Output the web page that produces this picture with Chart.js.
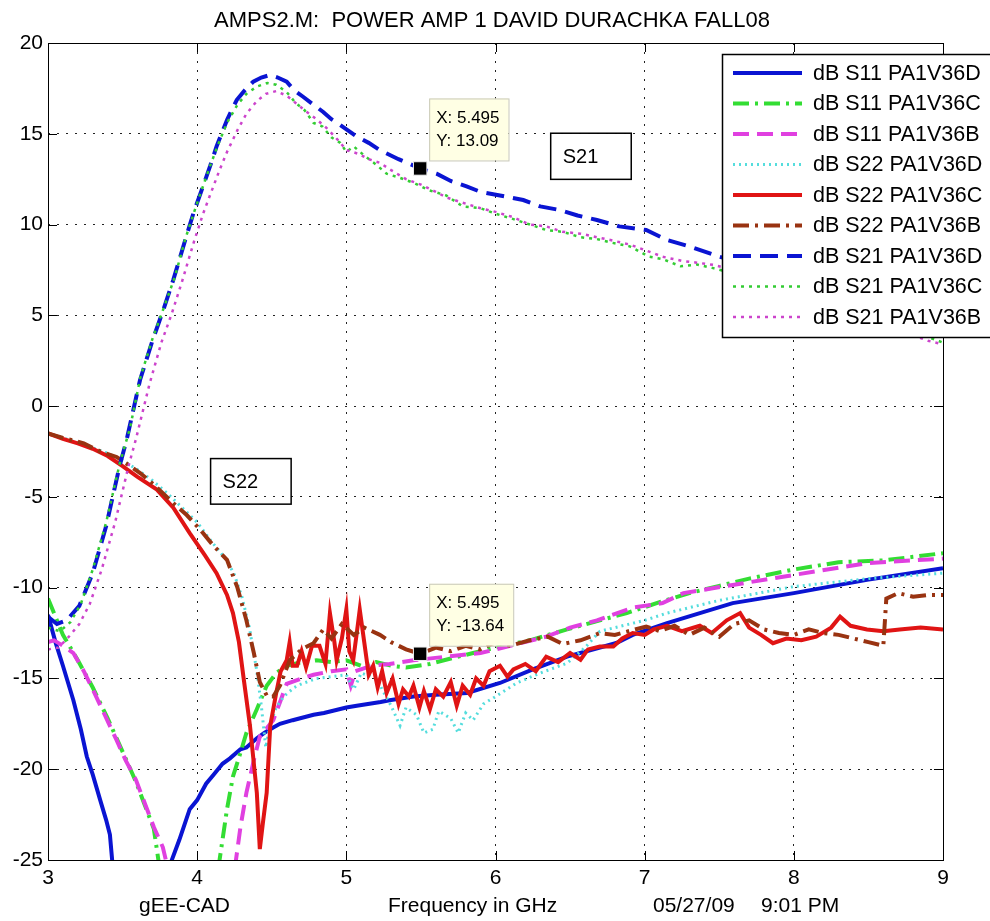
<!DOCTYPE html>
<html>
<head>
<meta charset="utf-8">
<script src="https://cdn.jsdelivr.net/npm/chart.js@4.4.0/dist/chart.umd.min.js"></script>
<style>
  html, body { margin: 0; padding: 0; background: #fff; }
</style>
</head>
<body>
<canvas id="myChart" width="990" height="921"></canvas>
<script>
// [GHz, dB] pairs
const s11D = [[3.0,-11.5],[3.05,-13.0],[3.1,-14.3],[3.17,-16.2],[3.22,-17.8],[3.26,-19.3],[3.3,-20.3],[3.35,-21.7],[3.39,-22.8],[3.415,-23.6],[3.43,-25],[3.45,-27],
  [3.78,-27],[3.83,-25],[3.88,-23.9],[3.95,-22.2],[4.0,-21.7],[4.06,-20.8],[4.11,-20.3],[4.17,-19.7],[4.22,-19.4],[4.29,-18.9],[4.33,-18.8],[4.4,-18.3],[4.45,-18.0],
  [4.51,-17.7],[4.555,-17.5],[4.64,-17.3],[4.78,-17.0],[4.85,-16.9],[5.0,-16.6],[5.07,-16.5],[5.23,-16.3],[5.29,-16.2],[5.45,-16.0],[5.6,-15.9],[5.81,-15.8],
  [6.03,-15.25],[6.25,-14.5],[6.48,-13.8],[6.81,-13.05],[6.92,-12.6],[7.15,-11.95],[7.59,-10.85],[8.0,-10.3],[8.49,-9.57],[9.0,-8.93]];

const s11C = [[3.0,-10.6],[3.05,-11.6],[3.1,-12.6],[3.15,-13.3],[3.2,-14.0],[3.3,-15.5],[3.4,-17.2],[3.46,-18.3],[3.52,-19.4],[3.59,-20.7],[3.65,-22.0],[3.71,-23.3],[3.74,-25],[3.76,-27],
  [4.12,-27],[4.15,-25],[4.2,-22.2],[4.24,-20.4],[4.29,-19.1],[4.33,-18.0],[4.4,-16.7],[4.466,-15.4],[4.53,-14.7],[4.6,-14.3],[4.7,-14.1],[4.8,-14.0],[4.9,-14.1],
  [5.0,-14.0],[5.1,-14.3],[5.2,-14.1],[5.3,-14.3],[5.4,-14.4],[5.56,-14.2],[5.7,-13.9],[5.85,-13.6],[6.0,-13.3],[6.23,-12.9],[6.48,-12.3],[6.7,-11.8],[6.88,-11.4],
  [7.1,-10.8],[7.3,-10.3],[7.5,-9.9],[7.7,-9.5],[8.0,-9.0],[8.3,-8.6],[8.6,-8.5],[8.8,-8.3],[9.0,-8.1]];

const s11B = [[3.0,-13.0],[3.04,-12.9],[3.1,-13.2],[3.17,-13.6],[3.24,-14.6],[3.3,-15.6],[3.38,-17.0],[3.46,-18.4],[3.52,-19.5],[3.59,-20.6],[3.65,-21.9],[3.71,-23.2],[3.77,-24.3],[3.79,-25],[3.81,-27],
  [4.23,-27],[4.26,-25],[4.29,-23.2],[4.33,-21.3],[4.38,-19.5],[4.42,-18.2],[4.51,-17.3],[4.56,-16.2],[4.6,-15.3],[4.7,-15.0],[4.78,-14.8],[4.9,-14.6],[5.0,-14.5],
  [5.03,-15.4],[5.06,-14.6],[5.17,-14.3],[5.29,-14.2],[5.45,-14.0],[5.67,-13.8],[5.9,-13.6],[6.1,-13.2],[6.34,-12.7],[6.5,-12.2],[6.68,-11.8],[6.92,-11.1],[7.12,-10.85],
  [7.26,-10.3],[7.59,-9.85],[8.0,-9.3],[8.49,-8.65],[9.0,-8.4]];

const s22D = [[3.0,-1.5],[3.1,-1.75],[3.2,-2.0],[3.3,-2.3],[3.4,-2.6],[3.5,-3.0],[3.6,-3.5],[3.7,-4.1],[3.8,-4.8],[3.9,-5.6],[4.0,-6.4],[4.1,-7.5],[4.2,-8.5],[4.25,-9.3],
  [4.3,-10.5],[4.35,-12.2],[4.4,-14.6],[4.43,-16.5],[4.46,-18.8],[4.49,-17.5],[4.53,-16.6],[4.58,-16.0],[4.65,-15.5],[4.7,-15.3],[4.8,-15.0],[4.9,-14.9],[5.0,-14.8],
  [5.05,-15.6],[5.1,-14.7],[5.2,-15.0],[5.3,-16.5],[5.36,-17.6],[5.4,-16.6],[5.47,-17.0],[5.52,-18.0],[5.58,-17.8],[5.62,-16.8],[5.7,-17.2],[5.75,-18.0],[5.8,-16.9],
  [5.85,-17.3],[5.92,-16.4],[6.0,-16.0],[6.14,-15.26],[6.3,-14.7],[6.48,-14.16],[6.6,-13.3],[6.7,-12.4],[7.0,-11.8],[7.15,-11.4],[7.5,-10.7],[8.0,-9.94],[8.5,-9.5],[9.0,-9.2]];

const s22C = [[3.0,-1.5],[3.1,-1.8],[3.2,-2.05],[3.3,-2.35],[3.4,-2.75],[3.5,-3.3],[3.6,-3.9],[3.73,-4.6],[3.84,-5.6],[3.95,-7.0],[4.05,-8.2],[4.13,-9.2],[4.2,-10.4],[4.24,-11.4],
  [4.28,-13.0],[4.31,-14.9],[4.354,-17.6],[4.4,-21.3],[4.42,-24.4],[4.44,-23.0],[4.466,-21.3],[4.49,-17.6],[4.53,-15.8],[4.56,-14.6],[4.6,-14.0],[4.62,-13.0],[4.64,-14.3],
  [4.67,-14.3],[4.7,-13.5],[4.73,-14.4],[4.77,-13.2],[4.82,-13.2],[4.86,-14.2],[4.89,-11.4],[4.92,-13.0],[4.935,-14.0],[4.97,-12.8],[5.0,-11.2],[5.02,-13.5],[5.046,-14.0],
  [5.07,-12.5],[5.09,-11.2],[5.12,-13.0],[5.15,-14.8],[5.18,-14.3],[5.21,-15.5],[5.24,-14.6],[5.27,-15.8],[5.31,-15.0],[5.35,-16.4],[5.38,-15.6],[5.42,-16.0],[5.45,-15.4],
  [5.49,-16.6],[5.52,-15.7],[5.56,-16.7],[5.6,-15.6],[5.65,-16.0],[5.7,-15.2],[5.74,-16.5],[5.78,-15.4],[5.83,-15.9],[5.87,-15.0],[5.92,-15.4],[5.96,-14.6],[6.03,-14.3],
  [6.08,-14.9],[6.12,-14.5],[6.2,-14.2],[6.27,-14.6],[6.34,-13.8],[6.42,-14.1],[6.5,-13.6],[6.57,-13.97],[6.62,-13.4],[6.7,-13.24],[6.79,-13.24],[6.85,-12.8],[6.92,-12.5],
  [7.0,-12.6],[7.06,-12.3],[7.15,-12.1],[7.25,-12.4],[7.37,-12.1],[7.45,-12.5],[7.55,-11.8],[7.64,-11.4],[7.7,-12.2],[7.78,-12.6],[7.86,-13.06],[7.95,-12.8],[8.05,-12.9],
  [8.15,-12.7],[8.25,-12.2],[8.31,-11.6],[8.38,-12.1],[8.49,-12.3],[8.6,-12.4],[8.71,-12.3],[8.85,-12.2],[9.0,-12.3]];

const s22B = [[3.0,-1.5],[3.1,-1.75],[3.24,-2.05],[3.35,-2.5],[3.46,-2.8],[3.55,-3.3],[3.62,-3.7],[3.72,-4.4],[3.84,-5.35],[3.93,-6.0],[4.02,-6.8],[4.1,-7.6],[4.2,-8.47],
  [4.27,-10.0],[4.33,-11.8],[4.38,-13.6],[4.42,-15.2],[4.47,-16.0],[4.51,-16.0],[4.555,-15.4],[4.62,-14.0],[4.7,-13.4],[4.78,-13.06],[4.845,-12.3],[4.9,-12.8],[4.97,-12.0],
  [5.05,-12.6],[5.12,-12.2],[5.225,-12.6],[5.3,-13.0],[5.4,-13.4],[5.495,-13.64],[5.6,-13.3],[5.7,-13.5],[5.8,-13.2],[5.895,-13.4],[6.0,-13.0],[6.1,-13.2],[6.23,-12.9],
  [6.35,-12.7],[6.45,-13.1],[6.57,-12.9],[6.7,-12.5],[6.8,-12.6],[7.01,-12.14],[7.1,-12.4],[7.2,-12.1],[7.3,-12.6],[7.4,-12.2],[7.5,-12.7],[7.6,-12.0],[7.7,-11.8],
  [7.8,-12.3],[7.9,-12.5],[8.0,-12.6],[8.1,-12.3],[8.2,-12.5],[8.3,-12.6],[8.4,-12.8],[8.5,-13.0],[8.6,-13.2],[8.62,-10.6],[8.7,-10.3],[8.8,-10.5],[8.9,-10.4],[9.0,-10.4]];

const s21D = [[3.0,-11.6],[3.06,-12.0],[3.125,-11.8],[3.21,-11.0],[3.3,-9.2],[3.39,-6.6],[3.48,-3.3],[3.527,-1.86],[3.617,1.44],[3.7,3.6],[3.773,5.3],[3.84,6.95],
  [3.92,9.15],[3.974,10.6],[4.03,11.9],[4.086,13.2],[4.13,14.3],[4.2,15.76],[4.265,16.86],[4.32,17.4],[4.376,17.87],[4.43,18.1],[4.488,18.24],[4.54,18.1],[4.6,17.87],
  [4.65,17.4],[4.71,17.04],[4.78,16.6],[4.845,16.2],[4.9,15.8],[4.957,15.5],[5.07,14.84],[5.15,14.5],[5.225,14.1],[5.35,13.6],[5.495,13.09],[5.605,12.8],[5.7,12.4],
  [5.806,12.1],[5.9,11.8],[6.03,11.6],[6.186,11.35],[6.3,11.0],[6.43,10.8],[6.55,10.5],[6.68,10.25],[6.83,9.9],[7.01,9.7],[7.15,9.15],[7.3,8.8],[7.5,8.23],[7.7,7.8],
  [8.0,7.3],[8.3,6.6],[8.6,5.6],[8.8,4.6],[9.0,3.9]];

const s21C = [[3.0,-12.2],[3.08,-12.4],[3.15,-11.9],[3.22,-10.9],[3.3,-9.0],[3.39,-6.4],[3.48,-3.2],[3.55,-1.2],[3.62,1.6],[3.7,3.7],[3.78,5.5],[3.85,7.1],[3.92,9.2],
  [3.98,10.7],[4.03,11.9],[4.09,13.3],[4.14,14.4],[4.2,15.6],[4.27,16.6],[4.33,17.2],[4.4,17.6],[4.47,17.8],[4.53,17.7],[4.6,17.3],[4.66,16.7],[4.72,16.3],[4.78,15.6],
  [4.84,15.4],[4.9,14.8],[4.96,14.5],[5.0,14.0],[5.05,14.3],[5.12,13.8],[5.2,13.3],[5.27,12.8],[5.35,12.6],[5.45,12.3],[5.55,11.9],[5.67,11.6],[5.78,11.0],[5.9,10.9],
  [6.0,10.6],[6.12,10.3],[6.23,10.0],[6.34,9.7],[6.45,9.6],[6.57,9.3],[6.68,9.2],[6.78,9.0],[6.9,8.8],[7.03,8.23],[7.12,8.1],[7.24,7.7],[7.35,7.8],[7.46,7.6],
  [7.6,7.3],[7.8,7.0],[8.0,6.6],[8.3,6.0],[8.6,5.0],[8.8,4.1],[9.0,3.5]];

const s21B = [[3.0,-13.4],[3.07,-13.3],[3.14,-12.7],[3.21,-12.0],[3.28,-10.9],[3.36,-9.0],[3.45,-6.4],[3.54,-3.3],[3.59,-1.8],[3.68,1.2],[3.76,3.5],[3.83,5.1],
  [3.9,6.9],[3.98,9.1],[4.04,10.6],[4.09,11.7],[4.15,13.0],[4.2,14.0],[4.27,15.2],[4.33,16.1],[4.4,16.8],[4.46,17.2],[4.53,17.35],[4.6,17.1],[4.66,16.7],[4.72,16.3],
  [4.8,15.8],[4.87,15.3],[4.95,14.6],[5.0,14.1],[5.08,13.9],[5.15,13.6],[5.225,13.4],[5.3,13.0],[5.4,12.5],[5.5,12.2],[5.6,11.8],[5.67,11.5],[5.78,11.2],[5.9,10.9],
  [6.0,10.7],[6.12,10.4],[6.23,10.0],[6.34,9.9],[6.45,9.6],[6.57,9.5],[6.68,9.3],[6.77,9.15],[6.9,8.9],[7.0,8.6],[7.12,8.23],[7.25,8.0],[7.35,7.9],[7.46,7.78],
  [7.6,7.5],[7.8,7.1],[8.0,6.7],[8.3,6.0],[8.6,4.9],[8.8,3.9],[8.9,3.6],[9.0,3.4]];

const seriesNames = ['dB S11 PA1V36D','dB S11 PA1V36C','dB S11 PA1V36B','dB S22 PA1V36D','dB S22 PA1V36C','dB S22 PA1V36B','dB S21 PA1V36D','dB S21 PA1V36C','dB S21 PA1V36B'];
const tipX = [5.495, 5.495];
const tipY = [13.09, -13.64];
const xTicks = [3, 4, 5, 6, 7, 8, 9];
const yTicks = [-25, -20, -15, -10, -5, 0, 5, 10, 15, 20];

const FONT = "'Liberation Sans', Arial, sans-serif";

const styles = [
  { color: '#0a14d2', width: 4, dash: [] },
  { color: '#33dd33', width: 4, dash: [16, 6, 3, 6] },
  { color: '#e040e0', width: 4, dash: [16, 8] },
  { color: '#55dddd', width: 3, dash: [2, 4] },
  { color: '#e01414', width: 4, dash: [] },
  { color: '#993311', width: 4, dash: [16, 6, 3, 6] },
  { color: '#0a14d2', width: 4, dash: [18, 9] },
  { color: '#33cc33', width: 2.5, dash: [3, 5] },
  { color: '#cc44cc', width: 2.5, dash: [3, 5] }
];

const allSeries = [s11D, s11C, s11B, s22D, s22C, s22B, s21D, s21C, s21B];

const datasets = allSeries.map((s, i) => ({
  label: seriesNames[i],
  data: s.map(p => ({ x: p[0], y: p[1] })),
  showLine: true,
  borderColor: styles[i].color,
  backgroundColor: styles[i].color,
  borderWidth: styles[i].width,
  borderDash: styles[i].dash,
  pointRadius: 0,
  tension: 0,
  clip: 0,
  order: 9 - i
}));

datasets.push({
  label: 'tips',
  data: tipX.map((v, i) => ({ x: v, y: tipY[i] })),
  showLine: false,
  pointStyle: 'rect',
  pointRadius: 9.5,
  backgroundColor: '#000',
  borderColor: '#eeeeee',
  borderWidth: 1,
  order: 0
});

// text boxes, in data units
const textBoxes = [
  { text: 'S21', x0: 6.37, x1: 6.91, y0: 15.03, y1: 12.49 },
  { text: 'S22', x0: 4.09, x1: 4.63, y0: -2.89, y1: -5.40 }
];

const decor = {
  id: 'decor',
  beforeDraw(chart) {
    const ctx = chart.ctx;
    ctx.save();
    ctx.fillStyle = '#fff';
    ctx.fillRect(0, 0, chart.width, chart.height);
    ctx.restore();
  },
  afterDatasetsDraw(chart) {
    const { ctx, chartArea: a, scales: { x, y } } = chart;
    ctx.save();

    // axes box + inward ticks
    ctx.strokeStyle = '#000';
    ctx.lineWidth = 1;
    ctx.setLineDash([]);
    ctx.strokeRect(a.left + 0.5, a.top + 0.5, a.right - a.left, a.bottom - a.top);
    ctx.beginPath();
    xTicks.forEach(v => {
      const px = Math.round(x.getPixelForValue(v)) + 0.5;
      ctx.moveTo(px, a.bottom); ctx.lineTo(px, a.bottom - 9);
      ctx.moveTo(px, a.top); ctx.lineTo(px, a.top + 9);
    });
    yTicks.forEach(v => {
      const py = Math.round(y.getPixelForValue(v)) + 0.5;
      ctx.moveTo(a.left, py); ctx.lineTo(a.left + 9, py);
      ctx.moveTo(a.right, py); ctx.lineTo(a.right - 9, py);
    });
    ctx.stroke();

    // S21 / S22 boxes
    ctx.font = '20px ' + FONT;
    ctx.fillStyle = '#000';
    ctx.textBaseline = 'middle';
    ctx.textAlign = 'left';
    ctx.lineWidth = 1.5;
    textBoxes.forEach(b => {
      const l = x.getPixelForValue(b.x0), r = x.getPixelForValue(b.x1);
      const t = y.getPixelForValue(b.y0), bt = y.getPixelForValue(b.y1);
      ctx.strokeRect(l, t, r - l, bt - t);
      ctx.fillText(b.text, l + 12, (t + bt) / 2 + 1);
    });

    // data tips
    ctx.font = '17px ' + FONT;
    tipX.forEach((v, i) => {
      const mx = x.getPixelForValue(v), my = y.getPixelForValue(tipY[i]);
      const l1 = 'X: ' + v.toFixed(3), l2 = 'Y: ' + tipY[i].toFixed(2);
      const w = Math.max(ctx.measureText(l1).width, ctx.measureText(l2).width) + 16;
      const h = 62;
      const bx = mx + 9, by = my - 8 - h;
      ctx.fillStyle = '#ffffe4';
      ctx.fillRect(bx, by, w, h);
      ctx.strokeStyle = '#c8c8b8';
      ctx.lineWidth = 1;
      ctx.strokeRect(bx + 0.5, by + 0.5, w, h);
      ctx.fillStyle = '#000';
      ctx.fillText(l1, bx + 7, by + 20);
      ctx.fillText(l2, bx + 7, by + 43);
    });

    // legend
    const lx = 722, ly = 54, lh = 283;
    ctx.fillStyle = '#fff';
    ctx.fillRect(lx, ly, chart.width - lx + 5, lh);
    ctx.strokeStyle = '#000';
    ctx.lineWidth = 1.5;
    ctx.strokeRect(lx + 0.5, ly + 0.5, chart.width - lx + 5, lh);
    ctx.font = '21.5px ' + FONT;
    seriesNames.forEach((name, i) => {
      const ry = 73 + i * 30.5;
      ctx.save();
      ctx.strokeStyle = styles[i].color;
      ctx.lineWidth = styles[i].width;
      ctx.setLineDash(styles[i].dash);
      ctx.beginPath();
      ctx.moveTo(733, ry); ctx.lineTo(802, ry);
      ctx.stroke();
      ctx.restore();
      ctx.fillStyle = '#000';
      ctx.fillText(name, 813, ry + 1);
    });

    // title and bottom labels
    ctx.font = '22px ' + FONT;
    ctx.textAlign = 'center';
    ctx.fillText('AMPS2.M:  POWER AMP 1 DAVID DURACHKA FALL08', 492, 21);
    ctx.font = '21px ' + FONT;
    ctx.textAlign = 'left';
    ctx.fillText('gEE-CAD', 139, 906);
    ctx.fillText('Frequency in GHz', 388, 906);
    ctx.fillText('05/27/09', 653, 906);
    ctx.fillText('9:01 PM', 761, 906);

    ctx.restore();
  }
};

const ctx = document.getElementById('myChart').getContext('2d');
const chart = new Chart(ctx, {
  type: 'scatter',
  data: { datasets: datasets },
  options: {
    responsive: false,
    animation: false,
    devicePixelRatio: 1,
    layout: { padding: { top: 43, right: 47, left: 0, bottom: 0 } },
    plugins: { legend: { display: false }, tooltip: { enabled: false }, title: { display: false } },
    scales: {
      x: {
        type: 'linear', min: 3, max: 9,
        afterFit: s => { s.height = 61; },
        afterBuildTicks: s => { s.ticks = xTicks.map(v => ({ value: v })); },
        ticks: { color: '#000', font: { size: 21, family: FONT }, padding: 6, autoSkip: false, maxRotation: 0 },
        grid: { color: '#222', lineWidth: 1, drawTicks: false },
        border: { display: false, dash: [2, 7] }
      },
      y: {
        type: 'linear', min: -25, max: 20,
        afterFit: s => { s.width = 48; },
        afterBuildTicks: s => { s.ticks = yTicks.map(v => ({ value: v })); },
        ticks: { color: '#000', font: { size: 21, family: FONT }, padding: 5, autoSkip: false },
        grid: { color: '#222', lineWidth: 1, drawTicks: false },
        border: { display: false, dash: [2, 7] }
      }
    }
  },
  plugins: [decor]
});
</script>
</body>
</html>
